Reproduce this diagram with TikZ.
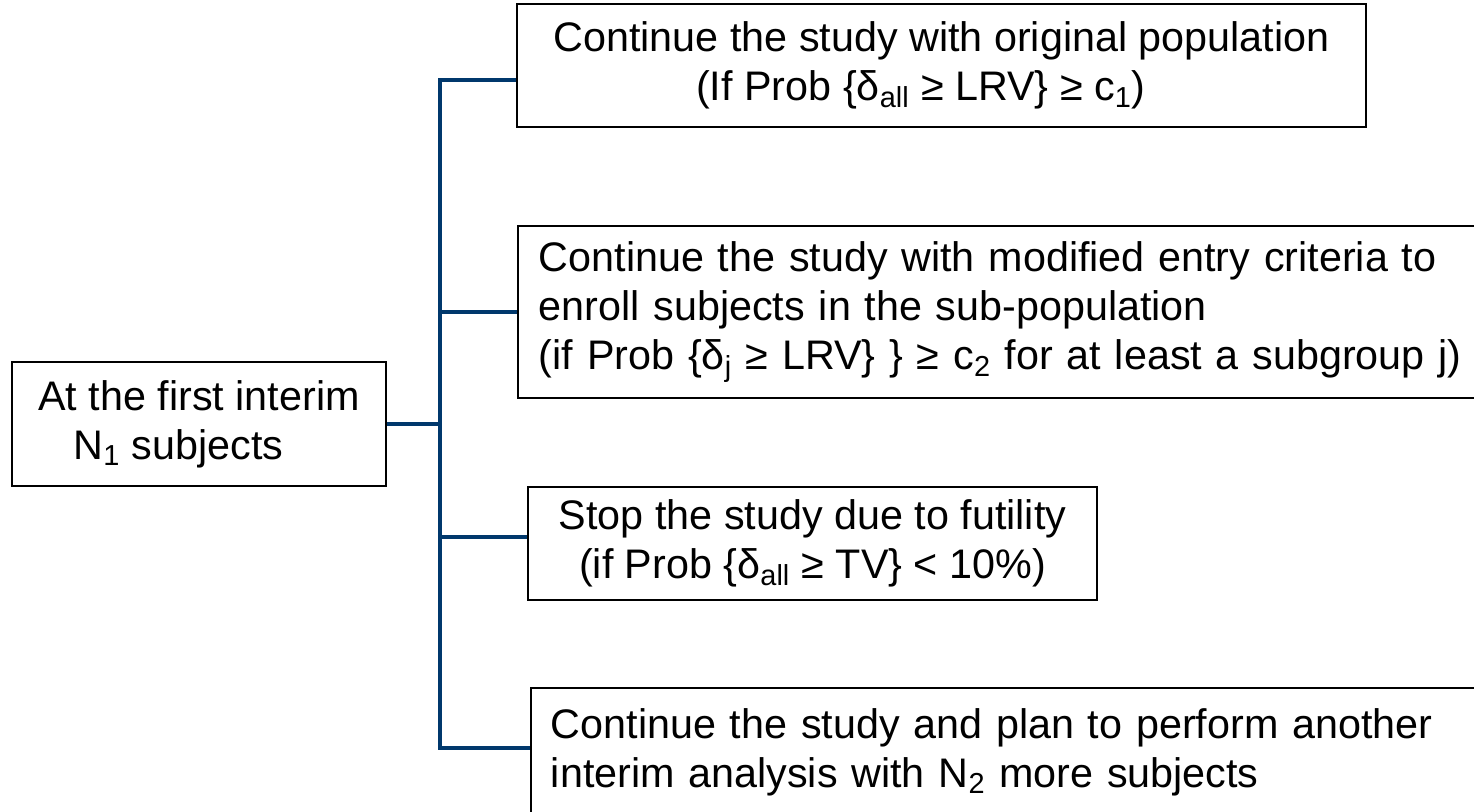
\documentclass[tikz,border=0pt]{standalone}
\usepackage{fontspec}
\setmainfont{Liberation Sans}
\definecolor{branchblue}{RGB}{0,56,108}
\begin{document}
\begin{tikzpicture}[
  box/.style={draw,line width=1pt,inner sep=0pt,font=\fontsize{23.5}{28}\selectfont},
  branch/.style={line width=2.4pt,color=branchblue}]
  \useasboundingbox (0,0) rectangle (29.48,-16.22);
  \clip (0,0) rectangle (29.48,-16.22);
  \node[box,minimum width=7.48cm,minimum height=2.48cm,align=left] (first) at (3.98,-8.48)
    {At the first interim\\ \hspace*{0.85em}N\textsubscript{1} subjects};
  \node[box,minimum width=16.98cm,minimum height=2.46cm,align=center] (orig) at (18.83,-1.31)
    {Continue the study with original population\\ (If Prob \{δ\textsubscript{all} ≥ LRV\} ≥ c\textsubscript{1})\hspace*{1em}};
  \node[box,anchor=west,inner xsep=0.42cm,minimum height=3.44cm,text width=20cm,align=left] (sub) at (10.34,-6.24)
    {Continue the study with modified entry criteria to\\ enroll subjects in the sub-population\\
     (if Prob \{δ\textsubscript{j} ≥ LRV\} \} ≥ c\textsubscript{2} for at least a subgroup j)};
  \node[box,minimum width=11.38cm,minimum height=2.26cm,align=center] (stop) at (16.25,-10.87)
    {Stop the study due to futility\\ (if Prob \{δ\textsubscript{all} ≥ TV\} < 10\%)};
  \node[box,anchor=west,inner xsep=0.4cm,minimum height=2.56cm,text width=20cm,align=left] (next) at (10.6,-15.04)
    {Continue the study and plan to perform another\\ interim analysis with N\textsubscript{2} more subjects};
  % bracket
  \coordinate (trunk) at (8.8,0);
  \draw[branch] (first.east) -- (first.east -| trunk);
  \draw[branch] ([yshift=-0.29cm]orig.west) -| ([yshift=0.08cm]trunk |- next.west) -- ([yshift=0.08cm]next.west);
  \draw[branch] (trunk |- sub.west) -- (sub.west);
  \draw[branch] ([yshift=0.13cm]trunk |- stop.west) -- ([yshift=0.13cm]stop.west);
\end{tikzpicture}
\end{document}
